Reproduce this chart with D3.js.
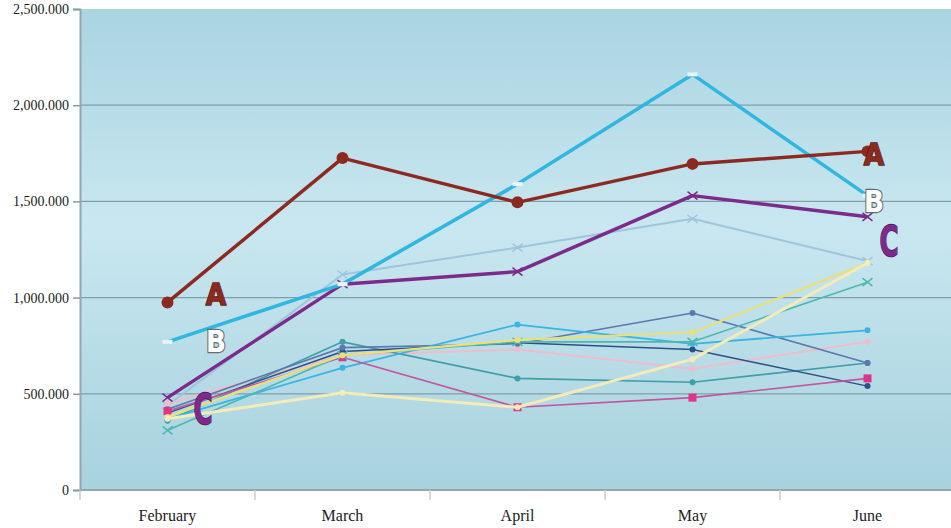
<!DOCTYPE html>
<html>
<head>
<meta charset="utf-8">
<script src="https://cdn.jsdelivr.net/npm/d3@7"></script>
<style>
  body { margin: 0; background: #fff; }
  svg { display: block; }
</style>
</head>
<body>
<div id="chart"></div>
<script>
// data
const months = ["February", "March", "April", "May", "June"];
const yTicks = [0, 500000, 1000000, 1500000, 2000000, 2500000];
const yTickLabels = ["0", "500.000", "1,000.000", "1,500.000", "2,000.000", "2,500.000"];

// minor series first so the big three sit on top
const lightSteel = [440000, 1120000, 1260000, 1410000, 1190000];
const teal = [360000, 770000, 580000, 560000, 660000];
const navy = [400000, 720000, 765000, 730000, 540000];
const magenta = [410000, 690000, 430000, 480000, 580000];
const skyBlue = [370000, 635000, 860000, 760000, 830000];
const slate = [420000, 740000, 760000, 920000, 660000];
const yellow = [380000, 700000, 780000, 820000, 1180000];
const palePink = [450000, 700000, 730000, 630000, 770000];
const cream = [370000, 505000, 430000, 680000, 1180000];
const green = [310000, 700000, 770000, 770000, 1080000];
const seriesA = [975000, 1725000, 1495000, 1695000, 1760000];
const seriesB = [770000, 1070000, 1590000, 2160000, 1530000];
const seriesC = [480000, 1070000, 1135000, 1530000, 1420000];

const svgWidth = 951, svgHeight = 528;
const plot = { left: 80, right: 955, top: 9, bottom: 490 };

const svg = d3.select("#chart").append("svg")
  .attr("width", svgWidth)
  .attr("height", svgHeight);

// background gradient of the plot area
const defs = svg.append("defs");
const grad = defs.append("linearGradient").attr("id", "bg")
  .attr("x1", 0).attr("y1", 0).attr("x2", 0).attr("y2", 1);
grad.append("stop").attr("offset", "0%").attr("stop-color", "#a9d4e1");
grad.append("stop").attr("offset", "45%").attr("stop-color", "#c9e7f0");
grad.append("stop").attr("offset", "100%").attr("stop-color", "#a7d2de");

const x = d3.scaleBand().domain(months).range([plot.left, plot.right]);
const y = d3.scaleLinear().domain([0, 2500000]).range([plot.bottom, plot.top]);

svg.append("rect")
  .attr("x", plot.left).attr("y", plot.top)
  .attr("width", plot.right - plot.left).attr("height", plot.bottom - plot.top)
  .attr("fill", "url(#bg)");

// gridlines
svg.append("g").selectAll("line").data(yTicks.slice(1, -1)).enter().append("line")
  .attr("x1", plot.left).attr("x2", plot.right)
  .attr("y1", d => y(d)).attr("y2", d => y(d))
  .attr("stroke", "#7f9eab").attr("stroke-width", 1.2);

// y axis
const yAxis = d3.axisLeft(y).tickValues(yTicks)
  .tickFormat((d, i) => yTickLabels[i]).tickSize(7).tickPadding(4);
const gy = svg.append("g").attr("transform", `translate(${plot.left},0)`).call(yAxis);
gy.select(".domain").attr("stroke", "#8fa8b2").attr("stroke-width", 2);
gy.selectAll(".tick line").attr("stroke", "#8a9aa2").attr("stroke-width", 1.5);
gy.selectAll("text").attr("font-family", "Liberation Serif, serif")
  .attr("font-size", 14).attr("fill", "#222");

// x axis
const gx = svg.append("g").attr("transform", `translate(0,${plot.bottom})`);
gx.append("line").attr("x1", plot.left).attr("x2", plot.right)
  .attr("stroke", "#8fa8b2").attr("stroke-width", 2);
gx.selectAll(".xt").data(months).enter().append("line")
  .attr("x1", d => x(d)).attr("x2", d => x(d))
  .attr("y1", 0).attr("y2", 10)
  .attr("stroke", "#c8ced2").attr("stroke-width", 1.5);
gx.selectAll("text").data(months).enter().append("text")
  .attr("x", d => x(d) + x.bandwidth() / 2)
  .attr("y", 31)
  .attr("text-anchor", "middle")
  .attr("font-family", "Liberation Serif, serif")
  .attr("font-size", 16)
  .attr("fill", "#222")
  .text(d => d);

const cx = (d, i) => x(months[i]) + x.bandwidth() / 2;
const line = d3.line().x((d, i) => cx(d, i)).y(d => y(d));

const series = [
  { values: lightSteel, color: "#9fc4dc", w: 2, marker: "x" },
  { values: palePink, color: "#efbccb", w: 2, marker: "dot" },
  { values: teal, color: "#3f9fa8", w: 1.6, marker: "dot" },
  { values: navy, color: "#2d4f86", w: 1.4, marker: "dot" },
  { values: slate, color: "#5b79ae", w: 1.6, marker: "dot" },
  { values: skyBlue, color: "#3ab4e2", w: 1.8, marker: "dot" },
  { values: magenta, color: "#c2559f", w: 1.6, marker: "square" },
  { values: green, color: "#4cb8b0", w: 1.6, marker: "x" },
  { values: yellow, color: "#e9e07a", w: 2.2, marker: "dot" },
  { values: cream, color: "#f4ebb8", w: 3, marker: "dot" },
  { values: seriesC, color: "#7c2b8c", w: 3.5, marker: "x" },
  { values: seriesB, color: "#2fb6e2", w: 3.5, marker: "dash" },
  { values: seriesA, color: "#8c2a21", w: 3.5, marker: "circle" }
];

const lines = svg.append("g");
series.forEach(s => {
  const g = lines.append("g");
  g.append("path").datum(s.values)
    .attr("d", line)
    .attr("fill", "none")
    .attr("stroke", s.color)
    .attr("stroke-width", s.w)
    .attr("stroke-linejoin", "round");
  const pts = g.selectAll("g.pt").data(s.values).enter().append("g")
    .attr("transform", (d, i) => `translate(${cx(d, i)},${y(d)})`);
  if (s.marker === "circle") {
    pts.append("circle").attr("r", 6).attr("fill", s.color);
  } else if (s.marker === "square") {
    pts.append("rect").attr("x", -4).attr("y", -4).attr("width", 8).attr("height", 8)
      .attr("fill", "#e0338a");
  } else if (s.marker === "dot") {
    pts.append("circle").attr("r", 3).attr("fill", s.color);
  } else if (s.marker === "x") {
    pts.append("path").attr("d", "M-5,-4L5,4M-5,4L5,-4")
      .attr("stroke", s.color).attr("stroke-width", 1.5);
  } else if (s.marker === "dash") {
    pts.append("rect").attr("x", -5).attr("y", -2).attr("width", 10).attr("height", 4)
      .attr("fill", "#e8f6fb");
  }
});

// the big series letters
const letters = [
  { t: "A", x: 216, y: 305, size: 31, sx: 0.85, fill: "#8c2a21", stroke: "#5a1710", sw: 1.5 },
  { t: "B", x: 216, y: 352, size: 31, sx: 0.85, fill: "#ffffff", stroke: "#6b6b6b", sw: 2.5 },
  { t: "C", x: 203, y: 424, size: 42, sx: 0.62, fill: "#7c2b8c", stroke: "#4a1555", sw: 1.5 },
  { t: "A", x: 874, y: 165, size: 31, sx: 0.85, fill: "#8c2a21", stroke: "#5a1710", sw: 1.5 },
  { t: "B", x: 874, y: 212, size: 31, sx: 0.85, fill: "#ffffff", stroke: "#6b6b6b", sw: 2.5 },
  { t: "C", x: 889, y: 256, size: 42, sx: 0.62, fill: "#7c2b8c", stroke: "#4a1555", sw: 1.5 }
];
svg.append("g").selectAll("text").data(letters).enter().append("text")
  .attr("transform", d => `translate(${d.x},${d.y}) scale(${d.sx},1)`)
  .attr("text-anchor", "middle")
  .attr("font-family", "DejaVu Sans, sans-serif")
  .attr("font-weight", "bold")
  .attr("font-size", d => d.size)
  .attr("fill", d => d.fill)
  .attr("stroke", d => d.stroke)
  .attr("stroke-width", d => d.sw)
  .attr("paint-order", "stroke")
  .text(d => d.t);
</script>
</body>
</html>
